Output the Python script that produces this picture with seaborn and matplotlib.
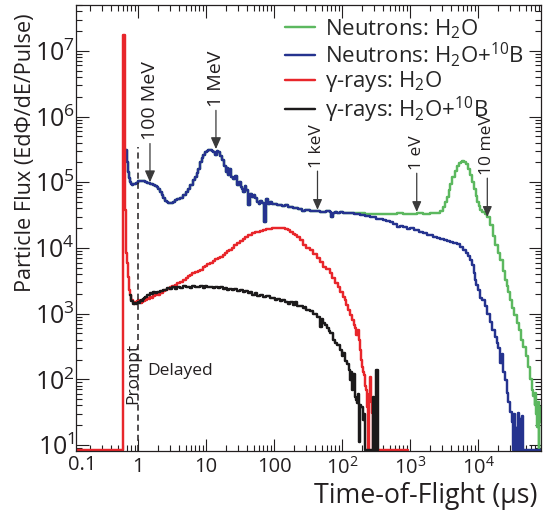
import numpy as np
import pandas as pd
import matplotlib
matplotlib.use("Agg")
import matplotlib.pyplot as plt
import seaborn as sns
from matplotlib.ticker import FixedLocator, FixedFormatter, LogLocator, NullFormatter

# ---------------------------------------------------------------------------
# Time-of-flight spectra: (time in microseconds, flux per pulse).
# A flux of 0 marks an empty bin; it is drawn on the bottom edge of the axes.
# ---------------------------------------------------------------------------

# Neutron spectrum common to both moderator configurations (fast region)
neutron_common = [
    (0.666, 3.1e5), (0.689, 2.0e5), (0.712, 1.45e5), (0.738, 1.15e5), (0.763, 1.0e5),
    (0.789, 9.4e4), (0.816, 9.0e4), (0.845, 9.3e4), (0.873, 9.5e4), (0.934, 9.9e4),
    (1.0, 1.03e5), (1.07, 1.05e5), (1.13, 1.03e5), (1.18, 1.04e5), (1.27, 1.01e5),
    (1.36, 9.8e4), (1.43, 9.9e4), (1.50, 9.5e4), (1.58, 9.3e4), (1.66, 9.0e4),
    (1.78, 8.8e4), (1.90, 8.4e4), (2.0, 7.8e4), (2.11, 7.0e4), (2.22, 6.3e4),
    (2.33, 5.8e4), (2.5, 5.2e4), (2.63, 5.0e4), (2.76, 4.85e4), (2.96, 4.8e4),
    (3.25, 4.95e4), (3.5, 5.3e4), (3.8, 5.5e4), (4.15, 5.8e4), (4.59, 6.3e4),
    (5.08, 7.2e4), (5.45, 8.0e4), (5.82, 9.1e4), (6.44, 1.08e5), (6.89, 1.22e5),
    (7.25, 1.4e5), (7.63, 1.62e5), (8.16, 2.05e5), (8.6, 2.35e5), (9.03, 2.6e5),
    (9.67, 2.85e5), (10.2, 3.0e5), (10.7, 3.1e5), (11.5, 3.05e5), (12.1, 3.0e5),
    (12.7, 2.85e5), (13.6, 2.6e5), (14.3, 2.95e5), (15.0, 2.85e5), (16.1, 2.5e5),
    (17.2, 2.2e5), (18.4, 1.75e5), (19.7, 1.45e5), (20.4, 1.65e5), (21.1, 1.3e5),
    (21.8, 1.6e5), (23.3, 1.2e5), (25.0, 1.12e5), (26.7, 1.25e5), (28.6, 9.1e4),
    (30.6, 1.0e5), (32.2, 8.6e4), (33.8, 8.0e4), (35.0, 7.1e4), (37.5, 8.8e4),
    (38.7, 7.6e4), (41.5, 4.5e4), (44.4, 6.6e4), (47.5, 6.0e4), (50.0, 6.4e4),
    (52.6, 5.8e4), (56.2, 5.0e4), (60.1, 4.6e4), (62.2, 5.2e4), (66.6, 4.85e4),
    (71.3, 2.5e4), (76.3, 5.6e4), (81.6, 4.6e4), (87.3, 5.0e4), (95.0, 4.6e4),
    (103, 4.75e4), (112, 4.5e4), (122, 4.55e4), (133, 4.4e4), (145, 4.45e4),
    (158, 4.25e4), (172, 4.2e4), (188, 4.05e4), (204, 4.1e4), (222, 3.9e4),
    (241, 3.85e4), (262, 3.7e4), (286, 3.75e4), (310, 3.8e4), (338, 3.65e4),
    (380, 3.7e4), (429, 3.6e4), (475, 3.55e4), (526, 3.5e4), (590, 3.6e4),
    (666, 3.5e4), (700, 3.0e4), (725, 3.45e4), (790, 3.5e4), (844, 3.4e4),
    (935, 3.5e4), (1035, 3.42e4),
]

# Slow-neutron region, pure water moderator
neutron_h2o_tail = [
    (1150, 3.4e4), (1312, 3.38e4), (1500, 3.42e4), (1840, 3.35e4), (2200, 3.33e4),
    (2582, 3.3e4), (3200, 3.32e4), (4009, 3.3e4), (5000, 3.28e4), (6442, 3.35e4),
    (8000, 3.3e4), (9351, 3.32e4), (11000, 3.3e4), (12680, 3.35e4), (15500, 3.3e4),
    (19680, 3.36e4), (23000, 3.35e4), (25820, 3.45e4), (28000, 3.6e4), (30560, 4.2e4),
    (33000, 5.0e4), (35000, 6.0e4), (37000, 7.5e4), (38730, 9.5e4), (42000, 1.2e5),
    (45900, 1.5e5), (49000, 1.75e5), (52600, 1.95e5), (55500, 2.05e5), (58200, 2.1e5),
    (62000, 2.05e5), (66700, 1.9e5), (71000, 1.6e5), (76300, 1.3e5), (81600, 1.0e5),
    (87300, 8.0e4), (92000, 6.2e4), (96600, 5.0e4), (102000, 4.3e4), (107000, 3.8e4),
    (115000, 3.5e4), (125000, 3.25e4), (136000, 2.95e4), (150000, 2.2e4), (166000, 1.5e4),
    (180000, 1.1e4), (195000, 8.5e3), (211000, 6.6e3), (230000, 4.5e3), (250000, 3.3e3),
    (267000, 2.6e3), (280000, 2.1e3), (296000, 1.6e3), (316000, 1.2e3), (340000, 9.5e2),
    (375000, 7.2e2), (400000, 5.6e2), (430000, 4.0e2), (459000, 3.1e2), (500000, 2.3e2),
    (543000, 1.55e2), (580000, 1.0e2), (622000, 69), (650000, 55), (689000, 40),
    (700000, 62), (715000, 30), (738000, 19), (760000, 45), (780000, 25),
    (790000, 0), (800000, 38), (816000, 22), (830000, 35), (844000, 30),
]

# Slow-neutron region, borated water moderator
neutron_boron_tail = [
    (1150, 3.4e4), (1312, 3.35e4), (1500, 3.3e4), (1840, 3.2e4), (2200, 3.05e4),
    (2582, 2.97e4), (3200, 2.8e4), (4009, 2.67e4), (4500, 2.55e4), (5082, 2.45e4),
    (5700, 2.3e4), (6442, 2.1e4), (7200, 2.15e4), (8000, 2.05e4), (9000, 1.95e4),
    (10000, 2.0e4), (11500, 1.85e4), (13500, 1.75e4), (15530, 1.69e4), (17500, 1.6e4),
    (19680, 1.55e4), (22000, 1.48e4), (24950, 1.42e4), (28000, 1.35e4), (32000, 1.3e4),
    (35000, 1.27e4), (38730, 1.22e4), (43000, 1.2e4), (49100, 1.15e4), (55000, 1.02e4),
    (60100, 9.3e3), (66000, 8.5e3), (71300, 7.6e3), (76300, 6.6e3), (81600, 5.5e3),
    (86000, 4.2e3), (90300, 3.2e3), (95000, 2.7e3), (100000, 2.3e3), (107000, 1.75e3),
    (115000, 1.6e3), (125000, 1.3e3), (136000, 1.0e3), (148000, 7.5e2), (161000, 5.6e2),
    (175000, 4.4e2), (190000, 3.55e2), (200000, 3.0e2), (211000, 1.8e2), (222000, 2.4e2),
    (235000, 1.3e2), (249000, 98), (265000, 62), (280000, 45), (296000, 32),
    (316000, 22), (327000, 0), (340000, 30), (350000, 0), (362000, 18),
    (375000, 0), (387000, 31), (400000, 0), (415000, 25), (430000, 0),
    (445000, 28), (459000, 0), (844000, 0),
]

# Gamma rays, pure water moderator
gamma_h2o = [
    (0.1225, 0), (0.602, 1.75e7), (0.633, 3.8e4), (0.666, 8.4e3), (0.689, 5.9e3),
    (0.712, 3.6e3), (0.738, 2.3e3), (0.763, 1.9e3), (0.789, 1.62e3), (0.83, 1.5e3),
    (0.873, 1.42e3), (0.90, 1.5e3), (0.934, 1.45e3), (0.97, 1.55e3), (1.0, 1.62e3),
    (1.04, 1.52e3), (1.07, 1.47e3), (1.11, 1.45e3), (1.15, 1.52e3), (1.18, 1.58e3),
    (1.23, 1.55e3), (1.27, 1.64e3), (1.32, 1.6e3), (1.36, 1.7e3), (1.43, 1.68e3),
    (1.50, 1.8e3), (1.58, 1.76e3), (1.66, 1.86e3), (1.78, 1.9e3), (1.90, 1.98e3),
    (2.0, 1.95e3), (2.11, 2.07e3), (2.3, 2.18e3), (2.5, 2.3e3), (2.7, 2.4e3),
    (2.96, 2.55e3), (3.2, 2.65e3), (3.5, 2.75e3), (3.8, 2.95e3), (4.15, 3.05e3),
    (4.6, 3.3e3), (5.08, 3.5e3), (5.4, 3.7e3), (5.82, 3.9e3), (6.3, 4.1e3),
    (6.89, 4.3e3), (7.5, 4.45e3), (8.16, 4.65e3), (8.9, 5.1e3), (9.67, 5.4e3),
    (10.5, 5.7e3), (11.5, 5.95e3), (12.5, 6.4e3), (13.6, 6.7e3), (14.8, 7.1e3),
    (16.1, 7.3e3), (17.5, 7.8e3), (19.0, 8.3e3), (20.5, 8.9e3), (22.0, 9.3e3),
    (24.0, 1.0e4), (26.0, 1.1e4), (28.6, 1.17e4), (31.6, 1.26e4), (34.5, 1.35e4),
    (37.5, 1.45e4), (41.0, 1.55e4), (44.4, 1.6e4), (48.0, 1.68e4), (52.6, 1.72e4),
    (57.0, 1.78e4), (62.2, 1.8e4), (68.0, 1.88e4), (76.3, 1.93e4), (87.3, 1.97e4),
    (95.0, 2.0e4), (103, 2.02e4), (112, 2.0e4), (122, 2.03e4), (133, 1.98e4),
    (145, 1.92e4), (158, 1.85e4), (172, 1.75e4), (188, 1.62e4), (204, 1.55e4),
    (218, 1.45e4), (241, 1.3e4), (267, 1.12e4), (300, 1.0e4), (338, 9.3e3),
    (380, 8.0e3), (429, 7.0e3), (475, 6.2e3), (526, 5.1e3), (590, 4.7e3),
    (666, 4.1e3), (720, 3.5e3), (789, 2.9e3), (860, 2.5e3), (935, 2.1e3),
    (1020, 1.8e3), (1107, 1.6e3), (1160, 1.35e3), (1225, 1.15e3), (1310, 9.5e2),
    (1403, 8.0e2), (1480, 6.8e2), (1553, 6.0e2), (1630, 4.8e2), (1718, 5.6e2),
    (1780, 3.9e2), (1840, 2.8e2), (1900, 2.0e2), (1968, 1.55e2), (2036, 1.3e2),
    (2108, 1.16e2), (2180, 80), (2254, 69), (2333, 38), (2410, 0),
    (2500, 60), (2582, 109), (2670, 45), (2761, 31), (2860, 0),
    (2958, 48), (3060, 30), (3162, 24), (3273, 0), (9351, 0),
]

# Gamma rays, borated water moderator
gamma_boron = [
    (0.77, 1.9e3), (0.80, 1.55e3), (0.83, 1.42e3), (0.873, 1.38e3), (0.90, 1.45e3),
    (0.934, 1.4e3), (0.97, 1.45e3), (1.0, 1.5e3), (1.04, 1.45e3), (1.07, 1.55e3),
    (1.11, 1.6e3), (1.15, 1.58e3), (1.18, 1.68e3), (1.23, 1.72e3), (1.27, 1.8e3),
    (1.32, 1.82e3), (1.36, 1.9e3), (1.43, 1.95e3), (1.50, 2.05e3), (1.58, 2.0e3),
    (1.66, 2.1e3), (1.78, 2.05e3), (1.90, 2.15e3), (2.0, 2.1e3), (2.11, 2.2e3),
    (2.3, 2.25e3), (2.5, 2.3e3), (2.7, 2.42e3), (2.96, 2.38e3), (3.2, 2.5e3),
    (3.5, 2.4e3), (3.8, 2.55e3), (4.15, 2.45e3), (4.6, 2.62e3), (5.08, 2.5e3),
    (5.4, 2.58e3), (5.82, 2.45e3), (6.3, 2.6e3), (6.89, 2.5e3), (7.5, 2.55e3),
    (8.16, 2.62e3), (8.9, 2.48e3), (9.67, 2.6e3), (10.5, 2.52e3), (11.5, 2.58e3),
    (12.5, 2.42e3), (13.6, 2.55e3), (14.8, 2.45e3), (16.1, 2.5e3), (17.5, 2.36e3),
    (19.0, 2.45e3), (20.5, 2.32e3), (22.0, 2.4e3), (24.0, 2.25e3), (26.0, 2.35e3),
    (28.6, 2.2e3), (31.6, 2.28e3), (34.5, 2.12e3), (37.5, 2.2e3), (41.0, 2.05e3),
    (44.4, 2.12e3), (48.0, 1.95e3), (52.6, 2.05e3), (57.0, 1.85e3), (62.2, 1.92e3),
    (68.0, 1.78e3), (76.3, 1.85e3), (87.3, 1.7e3), (95.0, 1.75e3), (103, 1.62e3),
    (112, 1.68e3), (122, 1.55e3), (133, 1.62e3), (145, 1.5e3), (158, 1.42e3),
    (172, 1.48e3), (188, 1.35e3), (204, 1.52e3), (218, 1.3e3), (241, 1.32e3),
    (267, 1.2e3), (286, 1.28e3), (300, 1.12e3), (338, 1.08e3), (380, 1.0e3),
    (429, 9.0e2), (475, 6.3e2), (500, 8.2e2), (526, 7.2e2), (560, 6.8e2),
    (601, 6.0e2), (640, 5.5e2), (666, 5.0e2), (738, 4.0e2), (790, 3.6e2),
    (844, 3.3e2), (935, 2.8e2), (1000, 2.3e2), (1035, 2.5e2), (1107, 1.9e2),
    (1185, 1.7e2), (1250, 1.4e2), (1312, 98), (1360, 1.3e2), (1403, 69),
    (1450, 1.2e2), (1553, 54), (1600, 48), (1662, 44), (1718, 60),
    (1778, 11), (1840, 40), (1902, 38), (2036, 24), (2108, 30),
    (2178, 0), (2860, 54), (2958, 0), (3162, 140), (3381, 0),
]

series_labels = [
    r"Neutrons: H$\mathregular{_2}$O",
    r"Neutrons: H$\mathregular{_2}$O+$\mathregular{^{10}}$B",
    r"γ-rays: H$\mathregular{_2}$O",
    r"γ-rays: H$\mathregular{_2}$O+$\mathregular{^{10}}$B",
]
series_colors = ["#5cb85f", "#25338f", "#e8262b", "#1c1a1b"]

# Energy markers: label, time (us), flux at the arrow tip, label size
energy_marks = [
    ("100 MeV", 1.50, 1.0e5, 14),
    ("1 MeV", 14.0, 3.2e5, 14),
    ("1 keV", 436, 3.8e4, 12.5),
    ("1 eV", 12560, 3.53e4, 12.5),
    ("10 meV", 137000, 2.97e4, 12.5),
]

x_tick_values = [1, 10, 100, 1e3, 1e4, 1e5]
x_tick_labels = ["1", "10", "100", r"$\mathregular{10^{2}}$",
                 r"$\mathregular{10^{3}}$", r"$\mathregular{10^{4}}$"]
y_tick_values = [1e1, 1e2, 1e3, 1e4, 1e5, 1e6, 1e7]
y_tick_labels = [r"$\mathregular{10^{%d}}$" % k for k in range(1, 8)]

prompt_cut = 1.0          # us, prompt/delayed boundary
prompt_cut_top = 3.45e5

# ---------------------------------------------------------------------------
sns.set_style("ticks")
plt.rcParams["font.family"] = ["Open Sans", "DejaVu Sans"]
plt.rcParams["mathtext.fontset"] = "custom"
plt.rcParams["mathtext.rm"] = "Open Sans"
plt.rcParams["mathtext.it"] = "Open Sans:italic"
plt.rcParams["mathtext.bf"] = "Open Sans:bold"

INK = "#231f20"
XMIN, XMAX = 0.1225, 8.44e5
YMIN, YMAX = 8.1, 5.0e7
FLOOR = 8.3   # height at which empty bins are drawn

fig = plt.figure(figsize=(5.44, 5.16), dpi=100)
ax = fig.add_axes([76 / 544, 65 / 516, 465 / 544, 446 / 516])
ax.set_xscale("log")
ax.set_yscale("log")


def to_frame(pairs):
    arr = np.array(pairs, dtype=float)
    return pd.DataFrame({"tof": arr[:, 0],
                         "flux": np.where(arr[:, 1] > 0, arr[:, 1], FLOOR)})


curves = [
    neutron_common + neutron_h2o_tail,
    neutron_common + neutron_boron_tail,
    gamma_h2o,
    gamma_boron,
]
for pairs, color, label in zip(curves, series_colors, series_labels):
    sns.lineplot(data=to_frame(pairs), x="tof", y="flux", ax=ax, color=color,
                 lw=1.75, drawstyle="steps-post", estimator=None, sort=False,
                 label=label)

# prompt / delayed separation
ax.plot([prompt_cut, prompt_cut], [YMIN, prompt_cut_top], color=INK, lw=1.1,
        ls=(0, (4, 2.6)))
ax.text(0.845, 123, "Prompt", rotation=90, ha="center", va="center",
        fontsize=12.5, color=INK)
ax.text(1.36, 134, "Delayed", ha="left", va="center", fontsize=12.5, color=INK)

# energy arrows
for text, t, f, size in energy_marks:
    ax.annotate(text, xy=(t, f), xytext=(0, 42), textcoords="offset pixels",
                rotation=90, ha="center", va="bottom", fontsize=size, color=INK,
                arrowprops=dict(arrowstyle="-|>,head_length=0.5,head_width=0.22",
                                color="#3a3a3a", lw=0.9, shrinkA=0, shrinkB=0))

ax.set_xlim(XMIN, XMAX)
ax.set_ylim(YMIN, YMAX)

ax.xaxis.set_major_locator(FixedLocator(x_tick_values))
ax.xaxis.set_major_formatter(FixedFormatter(x_tick_labels))
ax.xaxis.set_minor_locator(LogLocator(base=10, subs=np.arange(2, 10), numticks=20))
ax.xaxis.set_minor_formatter(NullFormatter())
ax.yaxis.set_major_locator(FixedLocator(y_tick_values))
ax.yaxis.set_major_formatter(FixedFormatter(y_tick_labels))
ax.yaxis.set_minor_locator(LogLocator(base=10, subs=np.arange(2, 10), numticks=20))
ax.yaxis.set_minor_formatter(NullFormatter())

ax.tick_params(which="both", direction="in", top=True, right=True,
               color=INK, width=0.8, labelcolor=INK)
ax.tick_params(which="major", length=9)
ax.tick_params(which="minor", length=4.5)
ax.tick_params(axis="x", pad=4, labelsize=14.5)
ax.tick_params(axis="y", pad=1, labelsize=18)
ax.text(6 / 465, -4 / 446, "0.1", transform=ax.transAxes,
        ha="center", va="top", fontsize=14.5, color=INK)
for sp in ax.spines.values():
    sp.set_color(INK)
    sp.set_linewidth(0.9)

ax.set_xlabel("Time-of-Flight (µs)", fontsize=19.3, color=INK, ha="right")
ax.xaxis.set_label_coords(1 - 3 / 465, -31 / 446)
ax.set_ylabel("Particle Flux (EdΦ/dE/Pulse)", fontsize=15.6, color=INK)
ax.yaxis.set_label_coords(-40 / 465, (451 - 153) / 446)

handles, labels = ax.get_legend_handles_labels()
ax.legend(handles, labels, loc="upper left", bbox_to_anchor=(209 / 465, (451 - 17) / 446),
          frameon=False, fontsize=16, handlelength=1.35, handletextpad=0.45,
          labelspacing=0.0, borderaxespad=0, borderpad=0)

fig.savefig("out.png", dpi=100)
